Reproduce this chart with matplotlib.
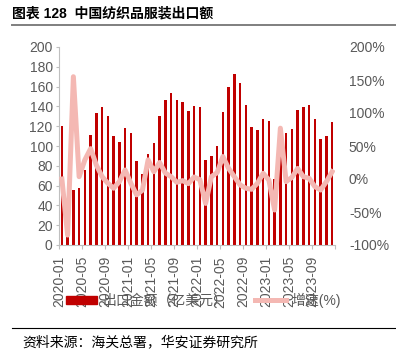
import matplotlib
matplotlib.use("Agg")
import matplotlib.pyplot as plt
from matplotlib.lines import Line2D
from matplotlib.patches import Patch
from matplotlib.ticker import FuncFormatter
import numpy as np

# monthly data, 2020-01 .. 2023-12
months = [f"{y}-{m:02d}" for y in range(2020, 2024) for m in range(1, 13)]
exports = [120, 10, 56, 58, 76, 111, 133, 139, 130, 110, 104, 118,
           113, 85, 71.5, 92, 103, 130, 146, 154, 146, 144, 135.5, 140.5,
           139.5, 86, 89.6, 100, 134, 160, 173, 164, 141, 119.5, 116, 127,
           125.6, 66.7, 118, 112.8, 116.8, 136.4, 139.7, 141, 127, 107.4, 110, 124.6]
growth = [0, -85, 155, 3.5, 29, 46, 21, 3.5, -6.5, -14, -4, 13.6,
          -6.5, -24, -17, 29, 11, 25, 9, 3.5, -5, -2.5, -7, 3,
          -1, -37, 3.5, 9.6, 34, 16, 3.5, -9, -14, -15.6, -6.6, 8.6,
          -1.5, -47, 77, -4, 2.5, 16, 3.5, 1, -11.6, -16.7, -4, 11]
bar_label = "出口金额（亿美元）"
line_label = "增速(%)"

plt.rcParams['font.family'] = ['Liberation Sans', 'Noto Sans CJK SC', 'DejaVu Sans']
grey = '#595959'
bar_color = '#C00000'
line_color = '#F4B8B3'

fig = plt.figure(figsize=(3.96, 3.6), dpi=100)
ax = fig.add_axes([59/396, 1 - 245/360, 276/396, 198/360])

x = np.arange(len(months))
ax.bar(x, exports, width=0.42, color=bar_color)
ax.set_xlim(-0.5, len(months) - 0.5)
ax.set_ylim(0, 200)
ax.set_yticks(range(0, 201, 20))

tick_pos = np.arange(0, len(months) + 1, 4) - 0.5
tick_lab = [months[i] for i in range(0, len(months), 4)] + ['']
ax.set_xticks(tick_pos)
ax.set_xticklabels(tick_lab, rotation=90)
ax.tick_params(axis='x', labelsize=10, colors='#BFBFBF', labelcolor=grey, length=3, pad=5)
ax.tick_params(axis='y', labelsize=10, colors='#BFBFBF', labelcolor=grey, length=2.5, pad=2)
for s in ['top', 'right']:
    ax.spines[s].set_visible(False)
for s in ['left', 'bottom']:
    ax.spines[s].set_color('#BFBFBF')

ax2 = ax.twinx()
ax2.plot(x, growth, color=line_color, lw=3.6, solid_joinstyle='round')
ax2.set_ylim(-100, 200)
ax2.set_yticks(range(-100, 201, 50))
ax2.yaxis.set_major_formatter(FuncFormatter(lambda v, p: f"{v:.0f}%"))
ax2.tick_params(axis='y', labelsize=10, labelcolor=grey, length=0, pad=10)
for s in ax2.spines.values():
    s.set_visible(False)

# legend sits over the date labels, as in the source chart
handles = [Patch(color=bar_color), Line2D([0], [0], color=line_color, lw=3.6)]
fig.legend(handles, [bar_label, line_label], loc='center',
           bbox_to_anchor=(203.5/396, 1 - 300/360), ncol=2, frameon=False,
           fontsize=10, handlelength=2.2, handleheight=0.5, handletextpad=0.4,
           columnspacing=2.0, labelcolor=grey)

fig.text(12/396, 1 - 13/360, "图表 128  中国纺织品服装出口额", fontsize=10,
         fontweight='bold', va='center')
fig.add_artist(Line2D([12/396, 1], [1 - 25/360] * 2, color='#7F7F7F', lw=1.4))
fig.add_artist(Line2D([12/396, 1], [1 - 328/360] * 2, color='#000000', lw=0.8))
fig.text(22/396, 1 - 342/360, "资料来源：海关总署，华安证券研究所", fontsize=10, va='center')

fig.savefig("out.png", dpi=100)
